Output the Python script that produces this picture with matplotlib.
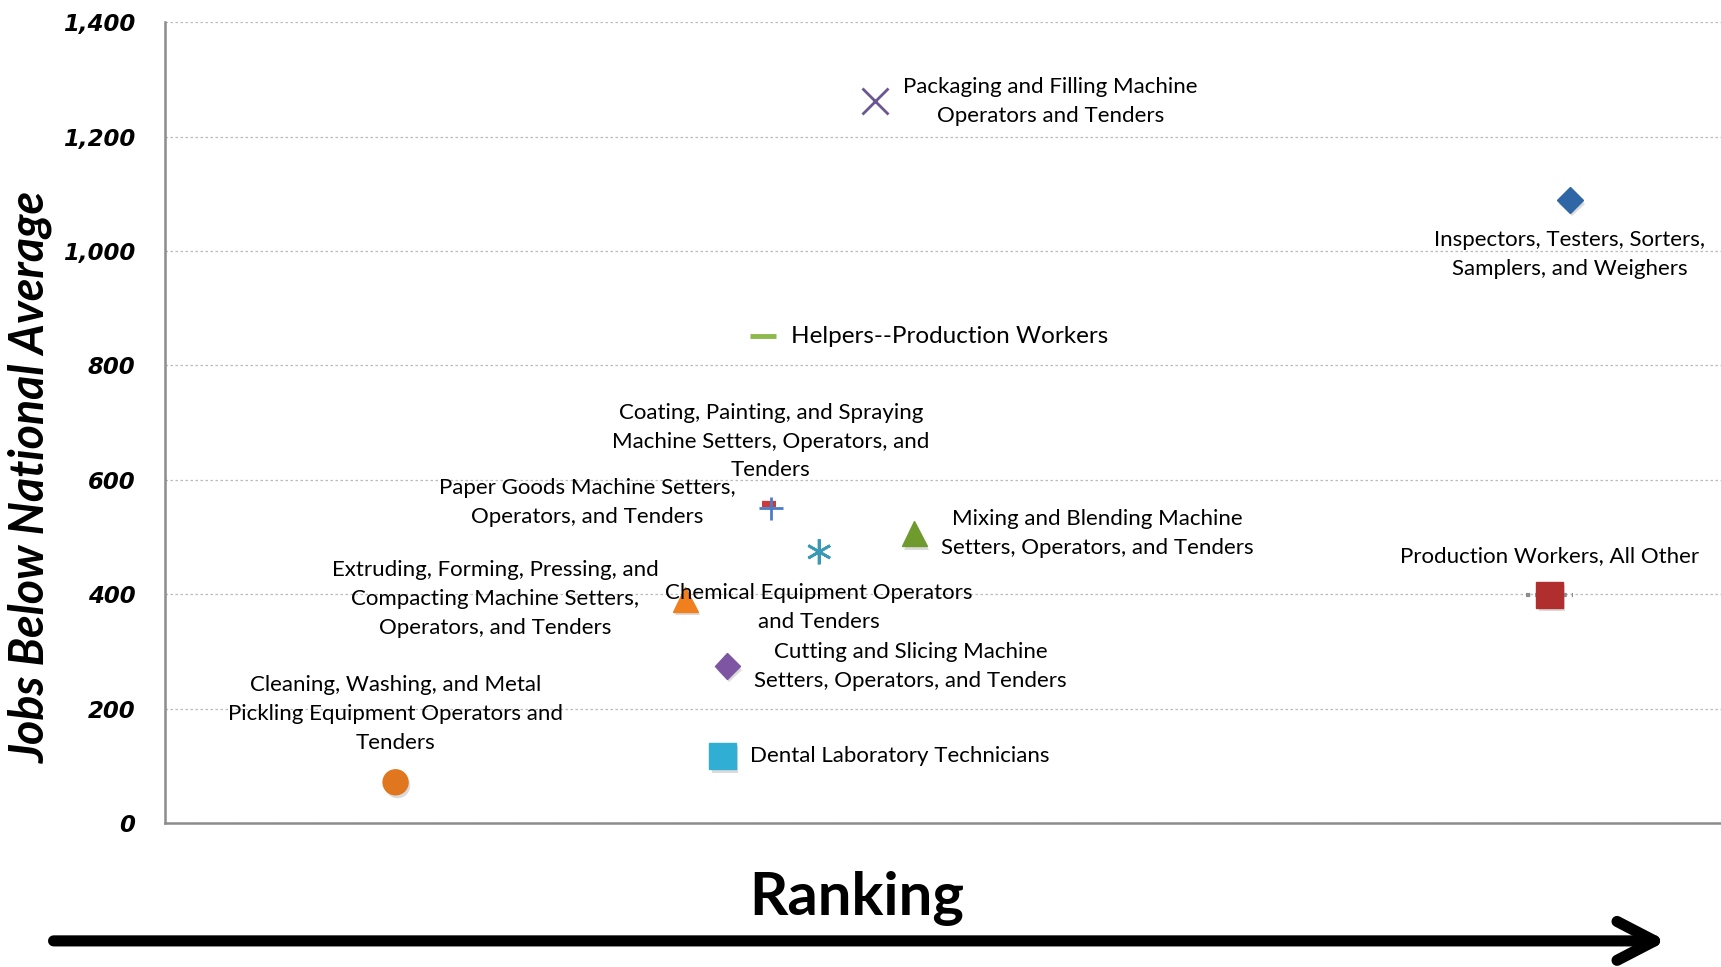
import matplotlib
matplotlib.use("Agg")
from matplotlib import pyplot as plt
from matplotlib import patheffects as pe
from matplotlib.ticker import FuncFormatter

# occupations: ranking position (x), jobs below national average (y)
names = [
    "Inspectors, Testers, Sorters,\nSamplers, and Weighers",
    "Production Workers, All Other",
    "Helpers--Production Workers",
    "Paper Goods Machine Setters,\nOperators, and Tenders",
    "Coating, Painting, and Spraying\nMachine Setters, Operators, and\nTenders",
    "Packaging and Filling Machine\nOperators and Tenders",
    "Chemical Equipment Operators\nand Tenders",
    "Mixing and Blending Machine\nSetters, Operators, and Tenders",
    "Extruding, Forming, Pressing, and\nCompacting Machine Setters,\nOperators, and Tenders",
    "Cutting and Slicing Machine\nSetters, Operators, and Tenders",
    "Dental Laboratory Technicians",
    "Cleaning, Washing, and Metal\nPickling Equipment Operators and\nTenders",
]
ranking = [90.2, 88.9, 38.4, 38.8, 38.9, 45.6, 42.0, 48.1, 33.4, 36.1, 35.8, 14.8]
jobs = [1089, 399, 851, 558, 550, 1262, 474, 506, 391, 274, 117, 71]

markers = ["D", "s", "_", "_", "+", "x", (6, 2, 0), "^", "^", "D", "s", "o"]
colors = ["#2F66A6", "#B02E2E", "#8DB94B", "#CC3B3B", "#4A7CC8", "#6B5592",
          "#3A9AB6", "#6E9A2E", "#F07F1E", "#7D55A2", "#31AED3", "#E0761E"]
sizes = [13, 19, 19, 10, 17, 19, 18, 18, 18, 13, 19, 18]
widths = [1, 1, 3.5, 4.5, 2, 2, 2, 1, 1, 1, 1, 1]

# label placement: offset (points), alignment
offsets = [(0, -39), (0, 28), (20, 0), (-131, 1), (0, 48), (126, 0),
           (0, -40), (132, 0), (-137, 0), (132, 0), (20, 0), (0, 49)]
halign = ["center", "center", "left", "center", "center", "center",
          "center", "center", "center", "center", "left", "center"]
fsize = [16, 16, 17.5, 16, 16, 16, 16, 16, 16, 16, 16, 16]

fig = plt.figure(figsize=(17.21, 9.67), dpi=100)
ax = fig.add_axes([0.0959, 0.149, 0.905, 0.828])

shadow = [pe.SimplePatchShadow(offset=(1.5, -2.5), shadow_rgbFace="#999999", alpha=0.35),
          pe.Normal()]

# dotted connector around the "all other" point
eb = ax.errorbar(ranking[1], jobs[1], xerr=1.5, fmt="none", ecolor="#8C8C8C",
                 elinewidth=3, capsize=0, zorder=2)
eb[2][0].set_linestyle((0, (1, 1.2)))

for i in range(len(names)):
    ax.plot(ranking[i], jobs[i], linestyle="none", marker=markers[i],
            markersize=sizes[i], markerfacecolor=colors[i],
            markeredgecolor=colors[i], markeredgewidth=widths[i], zorder=3,
            path_effects=shadow)
    ax.annotate(names[i], (ranking[i], jobs[i]), xytext=offsets[i],
                textcoords="offset points", ha=halign[i], va="center",
                multialignment="center", fontsize=fsize[i], family="Lato",
                linespacing=1.55, zorder=4)

ax.set_xlim(0, 100)
ax.set_ylim(0, 1400)
ax.set_yticks(range(0, 1401, 200))
ax.yaxis.set_major_formatter(FuncFormatter(lambda v, p: "{:,.0f}".format(v)))
ax.set_xticks([])
ax.tick_params(axis="y", length=0, pad=21.5)
for lab in ax.get_yticklabels():
    lab.set_fontsize(16.5)
    lab.set_fontweight("bold")
    lab.set_fontstyle("italic")
    lab.set_family("DejaVu Sans")

ax.grid(axis="y", linestyle=(0, (2, 2)), color="#BBBBBB", linewidth=0.9)
ax.set_axisbelow(True)
for s in ("top", "right"):
    ax.spines[s].set_visible(False)
for s in ("left", "bottom"):
    ax.spines[s].set_color("#8C8C8C")
    ax.spines[s].set_linewidth(1.8)

fig.text(0.018, 0.507, "Jobs Below National Average", rotation=90, ha="center",
         va="center", fontsize=33.5, fontweight="bold", fontstyle="italic",
         family="Lato")
fig.text(0.498, 0.071, "Ranking", ha="center", va="center", fontsize=43,
         fontweight="bold", family="Lato")

fig.patches.append(matplotlib.patches.FancyArrowPatch(
    (0.0295, 0.027), (0.970, 0.027), transform=fig.transFigure,
    arrowstyle="->,head_length=1.35,head_width=0.7",
    linewidth=8, color="black", mutation_scale=20))

fig.savefig("out.png", dpi=100)
